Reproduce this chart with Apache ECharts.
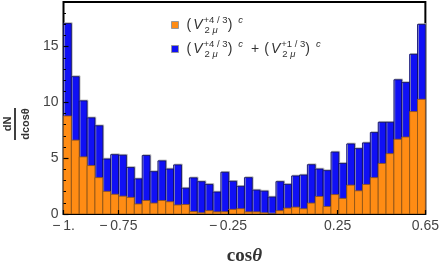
<!DOCTYPE html>
<html><head><meta charset="utf-8">
<script src="https://cdn.jsdelivr.net/npm/echarts@6/dist/echarts.min.js"></script>
<style>html,body{margin:0;padding:0;background:#fff}#c{width:442px;height:271px}</style>
</head><body><div id="c"></div>
<script>
// Histogram range (cos theta) and bin values
const xMin = -1, xMax = 0.65;
const totalValues = [17.07, 12.31, 10.14, 8.62, 7.91, 4.93, 5.32, 5.27, 4.17, 3.15,
  5.24, 3.80, 4.76, 4.03, 4.40, 2.31, 3.24, 2.90, 2.65, 1.97,
  3.74, 2.93, 2.48, 3.26, 2.14, 2.05, 1.52, 2.90, 2.65, 3.41,
  3.49, 4.42, 4.03, 3.89, 5.55, 4.53, 6.28, 5.86, 6.37, 7.30,
  8.22, 8.22, 12.03, 11.78, 14.31, 16.99];
const orangeValues = [8.79, 6.62, 5.12, 4.34, 3.26, 2.03, 1.77, 1.60, 1.49, 0.90,
  1.21, 0.98, 1.21, 1.10, 0.81, 0.85, 0.22, 0.10, 0.30, 0.19,
  0.20, 0.42, 0.47, 0.19, 0.19, 0.10, 0.00, 0.30, 0.53, 0.62,
  0.47, 0.98, 1.57, 0.67, 1.74, 1.40, 2.59, 2.08, 2.65, 3.26,
  4.53, 5.41, 6.70, 6.90, 9.18, 10.28];
const xTickValues = [-1, -0.75, -0.25, 0.25, 0.65];
const xTickLabels = ['\u2212\u20091.', '\u2212\u20090.75', '\u2212\u20090.25', '0.25', '0.65'];
const yTickValues = [0, 5, 10, 15];
const yMinorTickValues = [1,2,3,4,6,7,8,9,11,12,13,14,16,17,18];
const yMax = 19;

const nBins = totalValues.length;
const binW = (xMax - xMin) / nBins;
function toBins(vals) {
  return vals.map((v, i) => [xMin + i * binW, xMin + (i + 1) * binW, v]);
}
function makeRender(fill, stroke, shadow) {
  return function (params, api) {
    const p0 = api.coord([api.value(0), api.value(2)]);
    const p1 = api.coord([api.value(1), 0]);
    const style = { fill: fill, stroke: stroke, lineWidth: 0.8 };
    if (shadow) { style.shadowColor = '#b0b0b0'; style.shadowOffsetX = 0.8; style.shadowOffsetY = -0.8; style.shadowBlur = 0; }
    return { type: 'rect', shape: { x: p0[0], y: p0[1], width: p1[0] - p0[0], height: p1[1] - p0[1] }, style: style };
  };
}
const ORANGE = '#FF8C14', BLUE = '#1010F5';
const chart = echarts.init(document.getElementById('c'), null, { renderer: 'canvas' });
const FONT = 'Liberation Sans';
const TXT = '#333';
const legendRich = {
  p: { fontSize: 14, lineHeight: 20, color: TXT, fontFamily: FONT },
  pl: { fontSize: 14, lineHeight: 20, color: TXT, fontFamily: FONT, padding: [0, 5, 0, 8] },
  v: { fontSize: 14, lineHeight: 20, fontStyle: 'italic', color: TXT, fontFamily: FONT, padding: [0, 1, 0, 2] },
  sp: { fontSize: 9.5, lineHeight: 13, verticalAlign: 'top', color: TXT, fontFamily: FONT, width: 1 },
  sb: { fontSize: 9.5, lineHeight: 8, verticalAlign: 'bottom', color: TXT, fontFamily: FONT },
  sbi: { fontSize: 9.5, lineHeight: 8, verticalAlign: 'bottom', fontStyle: 'italic', color: TXT, fontFamily: FONT },
  g: { fontSize: 8, lineHeight: 8, width: 10 },
  c: { fontSize: 9.5, lineHeight: 13, verticalAlign: 'top', fontStyle: 'italic', color: TXT, fontFamily: FONT, padding: [0, 0, 0, 6] }
};
const legendText = {
  A: '{p|(}{v|V}{sp|+4 / 3}{sb|2 }{sbi|\u03bc}{g| }{p|)}{c|c}',
  B: '{p|(}{v|V}{sp|+4 / 3}{sb|2 }{sbi|\u03bc}{g| }{p|)}{c|c}{pl|+}{p|(}{v|V}{sp|+1 / 3}{sb|2 }{sbi|\u03bc}{g| }{p|)}{c|c}'
};
chart.setOption({
  animation: false,
  backgroundColor: '#fff',
  grid: { left: 63.5, right: 16, top: 2, bottom: 44.7, show: true, borderColor: '#000', borderWidth: 2, backgroundColor: 'transparent' },
  legend: {
    data: ['A', 'B'], orient: 'vertical', left: 166, top: 10, itemWidth: 7, itemHeight: 7, itemGap: 4,
    icon: 'rect', itemStyle: { borderColor: '#999', borderWidth: 1 },
    formatter: n => legendText[n],
    textStyle: { rich: legendRich, padding: [0, 0, 0, 3] }
  },
  xAxis: {
    type: 'value', min: xMin, max: xMax, z: 10,
    axisLine: { show: false, onZero: false }, splitLine: { show: false },
    axisTick: { show: true, inside: true, length: 4, lineStyle: { color: '#000', width: 1.2 }, customValues: xTickValues },
    axisLabel: { customValues: xTickValues, margin: 5, fontSize: 14, color: '#444', fontFamily: FONT,
      formatter: v => { const i = xTickValues.findIndex(t => Math.abs(t - v) < 1e-9); return i >= 0 ? xTickLabels[i] : ''; } },
    name: '{a|cos}{b|\u03b8}', nameLocation: 'middle', nameGap: 33,
    nameTextStyle: { rich: { a: { fontFamily: 'Liberation Serif', fontWeight: 'bold', fontSize: 19, color: '#333' }, b: { fontFamily: 'Liberation Serif', fontWeight: 'bold', fontStyle: 'italic', fontSize: 19, color: '#333' } } }
  },
  yAxis: [{
    type: 'value', min: 0, max: yMax, z: 10, position: 'left',
    axisLine: { show: false, onZero: false }, splitLine: { show: false },
    axisTick: { show: true, inside: true, length: 5, lineStyle: { color: '#000', width: 1.2 }, customValues: yTickValues },
    axisLabel: { customValues: yTickValues, margin: 5, fontSize: 14, color: '#444', fontFamily: FONT }
  }, {
    type: 'value', min: 0, max: yMax, position: 'left', offset: 0, z: 10,
    axisLine: { show: false, onZero: false }, splitLine: { show: false },
    axisTick: { show: true, inside: true, length: 2.5, lineStyle: { color: '#000', width: 1 }, customValues: yMinorTickValues },
    axisLabel: { show: false }
  }],
  graphic: [{
    type: 'group', x: 15, y: 124, rotation: Math.PI / 2,
    children: [
      { type: 'text', x: 0, y: -2, style: { text: 'dN', font: 'bold 11px "Liberation Sans"', fill: '#333', align: 'center', verticalAlign: 'bottom' } },
      { type: 'line', shape: { x1: -16, y1: 0, x2: 16, y2: 0 }, style: { stroke: '#000', lineWidth: 1.5 } },
      { type: 'text', x: 0, y: 5, style: { text: 'dcos\u03b8', font: 'bold 11px "Liberation Sans"', fill: '#333', align: 'center', verticalAlign: 'top' } }
    ]
  }],
  series: [
    { name: 'B', type: 'custom', clip: true, itemStyle: { color: BLUE }, renderItem: makeRender(BLUE, '#0a0a60', true),
      encode: { x: [0, 1], y: 2 }, data: toBins(totalValues) },
    { name: 'A', type: 'custom', clip: true, itemStyle: { color: ORANGE }, renderItem: makeRender(ORANGE, '#8a5418', false),
      encode: { x: [0, 1], y: 2 }, data: toBins(orangeValues) }
  ]
});
</script></body></html>
